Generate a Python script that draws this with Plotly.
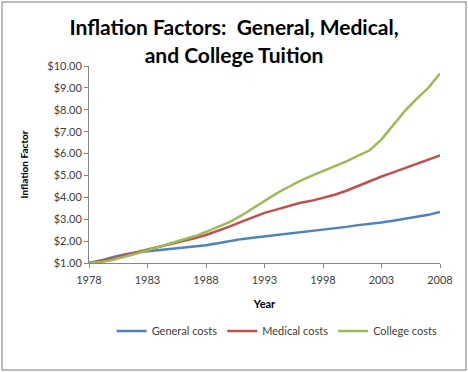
import plotly.graph_objects as go

years = list(range(1978, 2009))
general_costs = [1.00, 1.11, 1.26, 1.39, 1.48, 1.53, 1.59, 1.65, 1.68, 1.74,
                 1.81, 1.90, 2.00, 2.09, 2.15, 2.21, 2.27, 2.34, 2.41, 2.47,
                 2.51, 2.57, 2.65, 2.73, 2.78, 2.85, 2.93, 3.02, 3.11, 3.20, 3.33]
medical_costs = [1.00, 1.09, 1.21, 1.34, 1.49, 1.62, 1.74, 1.86, 1.99, 2.13,
                 2.28, 2.46, 2.66, 2.88, 3.10, 3.29, 3.44, 3.60, 3.74, 3.84,
                 3.97, 4.12, 4.30, 4.52, 4.74, 4.95, 5.14, 5.34, 5.52, 5.72, 5.92]
college_costs = [1.00, 1.04, 1.14, 1.27, 1.42, 1.58, 1.74, 1.90, 2.05, 2.22,
                 2.42, 2.63, 2.87, 3.16, 3.50, 3.86, 4.17, 4.46, 4.74, 4.98,
                 5.20, 5.42, 5.64, 5.90, 6.15, 6.65, 7.30, 7.95, 8.50, 9.00, 9.66]
series_names = ["General costs", "Medical costs", "College costs"]
series_colors = ["#4F81BD", "#C0504D", "#9BBB59"]
x_ticks = [1978, 1983, 1988, 1993, 1998, 2003, 2008]
y_ticks = [1, 2, 3, 4, 5, 6, 7, 8, 9, 10]

fig = go.Figure()
for name, vals, col in zip(series_names, [general_costs, medical_costs, college_costs], series_colors):
    fig.add_trace(go.Scatter(x=years, y=vals, mode="lines", name=name,
                             line=dict(color=col, width=2.5)))

font_fam = "Lato, 'Open Sans', sans-serif"
fig.update_layout(
    width=468, height=372,
    margin=dict(l=89, r=28, t=66, b=109),
    paper_bgcolor="white", plot_bgcolor="white",
    font=dict(family=font_fam, size=11, color="#404040"),
    title=dict(text="<b>Inflation Factors:  General, Medical,<br>and College Tuition</b>",
               x=0.5, xanchor="center", y=0.905, yanchor="middle",
               font=dict(size=21, color="black", family=font_fam)),
    showlegend=True,
    legend=dict(orientation="h", x=0.536, xanchor="center", y=-0.345, yanchor="middle",
                font=dict(size=11, color="#404040"), itemwidth=30, tracegroupgap=0,
                bgcolor="rgba(0,0,0,0)"),
    xaxis=dict(range=[1978, 2008], tickvals=x_ticks, showgrid=False, zeroline=False,
               showline=True, linecolor="#868686", linewidth=1,
               ticks="outside", ticklen=4, tickcolor="#868686", ticklabelstandoff=3,
               tickfont=dict(size=11, color="#404040"),
               title=dict(text="<b>Year</b>", font=dict(size=11, color="black"), standoff=15)),
    yaxis=dict(range=[1, 10], tickvals=y_ticks, tickformat="$.2f", showgrid=False,
               zeroline=False, showline=True, linecolor="#868686", linewidth=1,
               ticks="outside", ticklen=4, tickcolor="#868686",
               tickfont=dict(size=11, color="#404040"),
               title=dict(text="<b>Inflation Factor</b>", font=dict(size=10, color="black"), standoff=16)),
    shapes=[dict(type="rect", xref="paper", yref="paper",
                 x0=(2 - 89) / 351, x1=(466 - 89) / 351,
                 y0=(263 - 370) / 197, y1=(263 - 2) / 197,
                 line=dict(color="#A6A6A6", width=1.5), fillcolor="rgba(0,0,0,0)", layer="below")],
)

fig.write_html("out.html", config={"displayModeBar": False},
               post_script="document.body.style.margin='0';")
